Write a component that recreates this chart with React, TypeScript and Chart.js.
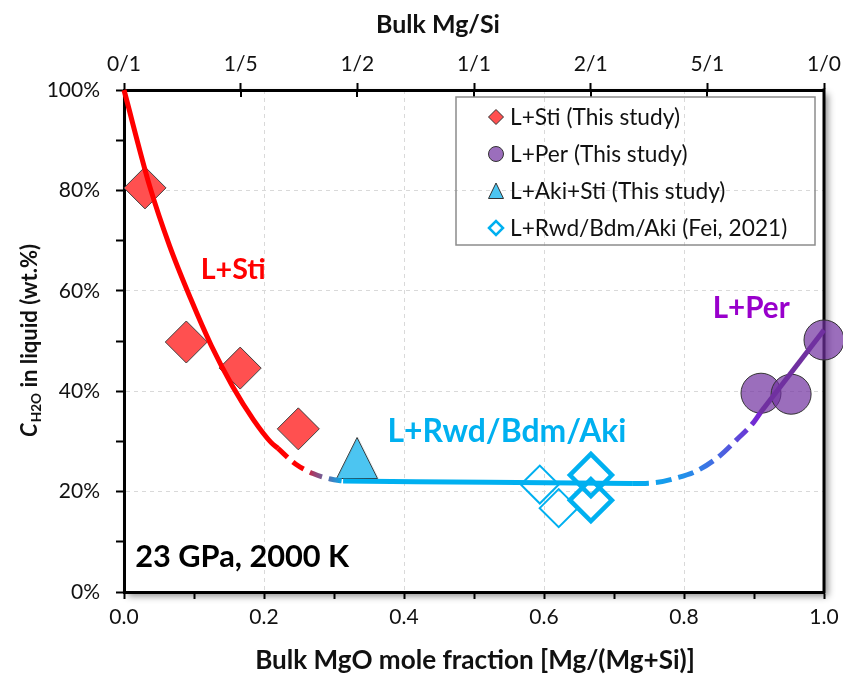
import React, { useEffect, useRef } from 'react';
import { Chart, registerables } from 'chart.js';

Chart.register(...registerables);

// ---------------- data ----------------
// L+Sti (This study)
const stiX = [0.03, 0.089, 0.166, 0.249];
const stiY = [80.5, 49.8, 44.6, 32.5];
// L+Per (This study)
const perX = [0.91, 0.953, 1.0];
const perY = [39.6, 39.4, 50.2];
// L+Aki+Sti (This study)
const akiX = [0.333];
const akiY = [26.7];
// L+Rwd/Bdm/Aki (Fei, 2021)
const feiX = [0.594, 0.621, 0.667, 0.667];
const feiY = [21.4, 16.7, 23.3, 18.3];

// phase-boundary curves
const stiCurveX = [0, 0.037, 0.065, 0.095, 0.125, 0.155, 0.185, 0.21, 0.22];
const stiCurveY = [100, 80.7, 69, 58.5, 49, 41, 34.3, 29.8, 28.6];
const stiToRwdX = [0.22, 0.245, 0.27, 0.295, 0.313];
const stiToRwdY = [28.6, 25.5, 23.6, 22.5, 22.1];
const rwdCurveX = [0.313, 0.52, 0.727];
const rwdCurveY = [22.1, 21.85, 21.6];
const rwdToPerX = [0.727, 0.76, 0.789, 0.818, 0.85, 0.875, 0.9, 0.909];
const rwdToPerY = [21.6, 21.8, 22.7, 24.1, 27.0, 30.3, 33.9, 35.7];
const perCurveX = [0.909, 1.0];
const perCurveY = [35.7, 52.2];

// top axis: bulk Mg/Si ratio ticks
const topMg = [0, 1, 1, 1, 2, 5, 1];
const topSi = [1, 5, 2, 1, 1, 1, 0];
const topTickLabels = topMg.map((m, i) => `${m}/${topSi[i]}`);
const topTickValues = topMg.map((m, i) => m / (m + topSi[i]));

const legendLabels = [
  'L+Sti (This study)',
  'L+Per (This study)',
  'L+Aki+Sti (This study)',
  'L+Rwd/Bdm/Aki (Fei, 2021)',
];

// ---------------- helpers ----------------
const FAMILY = 'Lato, "Open Sans", sans-serif';
const pts = (xs: number[], ys: number[]) => xs.map((x, i) => ({ x, y: ys[i] }));

const gradientFor = (x0: number, x1: number, stops: [number, string][]) => (c: any) => {
  const chart = c.chart;
  const xs = chart.scales && chart.scales.x;
  if (!xs || !chart.chartArea) return stops[0][1];
  const g = chart.ctx.createLinearGradient(xs.getPixelForValue(x0), 0, xs.getPixelForValue(x1), 0);
  stops.forEach(([o, col]) => g.addColorStop(o, col));
  return g;
};

const fitSize = (ctx: CanvasRenderingContext2D, text: string, width: number, weight: string) => {
  ctx.font = `${weight} 100px ${FAMILY}`;
  return (100 * width) / ctx.measureText(text).width;
};

const makeTriangle = () => {
  const c = document.createElement('canvas');
  c.width = 44;
  c.height = 44;
  const g = c.getContext('2d')!;
  g.beginPath();
  g.moveTo(22, 1.5);
  g.lineTo(42.5, 42.5);
  g.lineTo(1.5, 42.5);
  g.closePath();
  g.fillStyle = '#4cc5f1';
  g.fill();
  g.strokeStyle = '#333';
  g.lineWidth = 1;
  g.stroke();
  return c;
};

const noPadX = (h: number) => (s: any) => {
  s.height = h;
  s.paddingLeft = 0;
  s.paddingRight = 0;
};

const decorPlugin = {
  id: 'decor',
  beforeDraw(chart: any) {
    const { ctx, chartArea: a } = chart;
    ctx.save();
    ctx.fillStyle = '#fff';
    ctx.fillRect(0, 0, chart.width, chart.height);
    ctx.shadowColor = 'rgba(0,0,0,0.45)';
    ctx.shadowBlur = 7;
    ctx.shadowOffsetX = 4;
    ctx.shadowOffsetY = 4;
    ctx.fillRect(a.left, a.top, a.right - a.left, a.bottom - a.top);
    ctx.restore();
  },
  beforeDatasetsDraw(chart: any) {
    const { ctx, chartArea: a, scales } = chart;
    ctx.save();
    ctx.strokeStyle = '#000';
    ctx.lineWidth = 3;
    ctx.beginPath();
    ctx.moveTo(a.right, a.top - 1.5);
    ctx.lineTo(a.right, a.bottom + 1.5);
    ctx.stroke();
    // inner half of top-axis tick marks
    ctx.lineWidth = 2;
    const x2 = scales.x2;
    topTickValues.forEach((v) => {
      const px = Math.round(x2.getPixelForValue(v));
      ctx.beginPath();
      ctx.moveTo(px, a.top);
      ctx.lineTo(px, a.top + 7);
      ctx.stroke();
    });
    ctx.restore();
  },
  afterDatasetsDraw(chart: any) {
    const { ctx, scales, chartArea: a } = chart;
    const sx = scales.x;
    const sy = scales.y;
    ctx.save();
    ctx.textBaseline = 'middle';

    // annotations
    const notes: [string, string, number, number, number][] = [
      ['L+Sti', '#ff0000', 0.156, 64.1, 65],
      ['L+Rwd/Bdm/Aki', '#00b0f0', 0.547, 31.9, 239],
      ['L+Per', '#9900cc', 0.896, 56.4, 77],
    ];
    notes.forEach(([t, col, x, y, w]) => {
      const s = fitSize(ctx, t, w, 'bold');
      ctx.font = `bold ${s}px ${FAMILY}`;
      ctx.fillStyle = col;
      ctx.textAlign = 'center';
      ctx.fillText(t, sx.getPixelForValue(x), sy.getPixelForValue(y));
    });
    {
      const t = '23 GPa, 2000 K';
      const s = fitSize(ctx, t, 214, 'bold');
      ctx.font = `bold ${s}px ${FAMILY}`;
      ctx.fillStyle = '#000';
      ctx.textAlign = 'left';
      ctx.fillText(t, sx.getPixelForValue(0.016), sy.getPixelForValue(7));
    }

    // legend
    const lx = 456, ly = 97, lw = 359, lh = 148;
    ctx.strokeStyle = '#8c8c8c';
    ctx.lineWidth = 1.5;
    ctx.strokeRect(lx, ly, lw, lh);
    const rows = [117, 154, 191, 228];
    const fs = fitSize(ctx, legendLabels[0], 170, 'normal');
    ctx.font = `normal ${fs}px ${FAMILY}`;
    ctx.textAlign = 'left';
    legendLabels.forEach((lab, i) => {
      const cy = rows[i];
      const cx = 496;
      ctx.fillStyle = '#111';
      ctx.fillText(lab, 510, cy + 1);
      ctx.lineWidth = 1;
      ctx.strokeStyle = '#333';
      ctx.beginPath();
      if (i === 0) {
        ctx.moveTo(cx - 7.5, cy); ctx.lineTo(cx, cy - 7.5); ctx.lineTo(cx + 7.5, cy); ctx.lineTo(cx, cy + 7.5); ctx.closePath();
        ctx.fillStyle = '#ff5050'; ctx.fill(); ctx.stroke();
      } else if (i === 1) {
        ctx.arc(cx, cy, 7.5, 0, Math.PI * 2);
        ctx.fillStyle = '#9b6ebc'; ctx.fill(); ctx.stroke();
      } else if (i === 2) {
        ctx.moveTo(cx, cy - 8); ctx.lineTo(cx + 7.5, cy + 7.5); ctx.lineTo(cx - 7.5, cy + 7.5); ctx.closePath();
        ctx.fillStyle = '#4cc5f1'; ctx.fill(); ctx.stroke();
      } else {
        ctx.moveTo(cx - 7, cy); ctx.lineTo(cx, cy - 7); ctx.lineTo(cx + 7, cy); ctx.lineTo(cx, cy + 7); ctx.closePath();
        ctx.strokeStyle = '#00b0f0'; ctx.lineWidth = 2.5; ctx.stroke();
      }
    });

    // axis titles
    ctx.fillStyle = '#111';
    ctx.textAlign = 'center';
    {
      const t = 'Bulk MgO mole fraction [Mg/(Mg+Si)]';
      ctx.font = `bold ${fitSize(ctx, t, 440, 'bold')}px ${FAMILY}`;
      ctx.fillText(t, 475, 661);
      const t2 = 'Bulk Mg/Si';
      ctx.font = `bold ${fitSize(ctx, t2, 124, 'bold')}px ${FAMILY}`;
      ctx.fillText(t2, 438, 25);
    }

    // y title with subscript
    const ys = 22;
    ctx.save();
    ctx.translate(30, (a.top + a.bottom) / 2);
    ctx.rotate(-Math.PI / 2);
    ctx.textAlign = 'left';
    const partC = 'C', partSub = 'H2O', partRest = ' in liquid (wt.%)';
    ctx.font = `italic bold ${ys}px ${FAMILY}`;
    const wC = ctx.measureText(partC).width;
    ctx.font = `bold ${ys * 0.62}px ${FAMILY}`;
    const wS = ctx.measureText(partSub).width;
    ctx.font = `bold ${ys}px ${FAMILY}`;
    const wR = ctx.measureText(partRest).width;
    let x0 = -(wC + wS + wR) / 2;
    ctx.font = `italic bold ${ys}px ${FAMILY}`;
    ctx.fillText(partC, x0, 0);
    x0 += wC + 1;
    ctx.font = `bold ${ys * 0.62}px ${FAMILY}`;
    ctx.fillText(partSub, x0, ys * 0.3);
    x0 += wS;
    ctx.font = `bold ${ys}px ${FAMILY}`;
    ctx.fillText(partRest, x0, 0);
    ctx.restore();

    ctx.restore();
  },
};

export default function App() {
  const ref = useRef<HTMLCanvasElement | null>(null);

  useEffect(() => {
    if (!ref.current) return;
    const tri = makeTriangle();
    const tickFont = { family: FAMILY, size: 21 };
    const chart = new Chart(ref.current, {
      type: 'scatter',
      data: {
        datasets: [
          {
            label: 'L+Per curve',
            data: pts(perCurveX, perCurveY),
            showLine: true,
            borderColor: '#7030a0',
            borderWidth: 5,
            pointRadius: 0,
            clip: false,
          },
          {
            label: 'Rwd to Per',
            data: pts(rwdToPerX, rwdToPerY),
            showLine: true,
            borderColor: gradientFor(0.727, 0.909, [[0, '#00b0f0'], [0.4, '#2390ea'], [0.7, '#4a62e0'], [1, '#7a22d0']]),
            borderWidth: 5,
            borderDash: [16, 7],
            cubicInterpolationMode: 'monotone',
            pointRadius: 0,
          },
          {
            label: 'L+Rwd curve',
            data: pts(rwdCurveX, rwdCurveY),
            showLine: true,
            borderColor: '#00b0f0',
            borderWidth: 5,
            cubicInterpolationMode: 'monotone',
            pointRadius: 0,
          },
          {
            label: 'Sti to Rwd',
            data: pts(stiToRwdX, stiToRwdY),
            showLine: true,
            borderColor: gradientFor(0.22, 0.313, [[0, '#ff0000'], [0.38, '#ff0000'], [0.55, '#a0406e'], [0.8, '#4a78b8'], [1, '#00b0f0']]),
            borderWidth: 5,
            borderDash: [13, 7],
            cubicInterpolationMode: 'monotone',
            pointRadius: 0,
          },
          {
            label: 'L+Sti curve',
            data: pts(stiCurveX, stiCurveY),
            showLine: true,
            borderColor: '#ff0000',
            borderWidth: 5,
            cubicInterpolationMode: 'monotone',
            pointRadius: 0,
            clip: false,
          },
          {
            label: legendLabels[0],
            data: pts(stiX, stiY),
            pointStyle: 'rectRot',
            pointRadius: 21,
            pointHoverRadius: 21,
            backgroundColor: '#ff5050',
            borderColor: '#404040',
            borderWidth: 1,
            clip: false,
          },
          {
            label: legendLabels[1],
            data: pts(perX, perY),
            pointStyle: 'circle',
            pointRadius: 20,
            pointHoverRadius: 20,
            backgroundColor: 'rgba(112,48,160,0.7)',
            borderColor: '#333',
            borderWidth: 1,
            clip: false,
          },
          {
            label: legendLabels[2],
            data: pts(akiX, akiY),
            pointStyle: tri,
            pointRadius: 22,
            clip: false,
          },
          {
            label: legendLabels[3],
            data: pts(feiX, feiY),
            pointStyle: 'rectRot',
            pointRadius: (c: any) => (c.dataIndex >= 2 ? 21 : 19),
            pointHoverRadius: (c: any) => (c.dataIndex >= 2 ? 21 : 19),
            backgroundColor: 'rgba(0,0,0,0)',
            borderColor: '#00b0f0',
            borderWidth: (c: any) => (c.dataIndex >= 2 ? 4.5 : 2),
            clip: false,
          },
        ],
      },
      options: {
        animation: false,
        responsive: false,
        events: [],
        layout: { autoPadding: false, padding: { left: 0, right: 19, top: 0, bottom: 0 } },
        plugins: { legend: { display: false }, tooltip: { enabled: false } },
        scales: {
          x: {
            type: 'linear',
            position: 'bottom',
            min: 0,
            max: 1,
            afterFit: noPadX(83),
            ticks: {
              stepSize: 0.1,
              autoSkip: false,
              maxRotation: 0,
              padding: 6,
              color: '#111',
              font: tickFont,
              callback: (v: any) => {
                const k = Math.round(Number(v) * 10);
                return k % 2 === 0 ? (k / 10).toFixed(1) : '';
              },
            },
            grid: {
              color: (c: any) => {
                const k = Math.round(c.tick.value * 10);
                return k % 2 === 0 && k > 0 && k < 10 ? '#d9d9d9' : 'rgba(0,0,0,0)';
              },
              lineWidth: 1,
              tickLength: 7,
              tickWidth: 2,
              tickColor: '#000',
            },
            border: { display: true, color: '#000', width: 3, dash: [4, 4] },
          },
          x2: {
            type: 'linear',
            axis: 'x',
            position: 'top',
            min: 0,
            max: 1,
            afterFit: noPadX(90),
            afterBuildTicks: (s: any) => { s.ticks = topTickValues.map((v) => ({ value: v })); },
            ticks: {
              autoSkip: false,
              maxRotation: 0,
              padding: 6,
              color: '#111',
              font: tickFont,
              callback: (_v: any, i: number) => topTickLabels[i],
            },
            grid: { drawOnChartArea: false, tickLength: 7, tickWidth: 2, tickColor: '#000' },
            border: { display: true, color: '#000', width: 3 },
          },
          y: {
            type: 'linear',
            min: 0,
            max: 100,
            afterFit: (s: any) => { s.width = 124; s.paddingTop = 0; s.paddingBottom = 0; },
            ticks: {
              stepSize: 10,
              autoSkip: false,
              padding: 16,
              color: '#111',
              font: tickFont,
              callback: (v: any) => (Number(v) % 20 === 0 ? `${v}%` : ''),
            },
            grid: {
              color: (c: any) => {
                const v = c.tick.value;
                return v % 20 === 0 && v > 0 && v < 100 ? '#d9d9d9' : 'rgba(0,0,0,0)';
              },
              lineWidth: 1,
              tickLength: 8,
              tickWidth: 2,
              tickColor: '#000',
            },
            border: { display: true, color: '#000', width: 3, dash: [4, 4] },
          },
        },
      } as any,
      plugins: [decorPlugin],
    } as any);
    return () => chart.destroy();
  }, []);

  return (
    <div style={{ position: 'absolute', left: 0, top: 0, width: 843, height: 675, background: '#fff' }}>
      <canvas ref={ref} width={843} height={675} style={{ display: 'block' }} />
    </div>
  );
}
